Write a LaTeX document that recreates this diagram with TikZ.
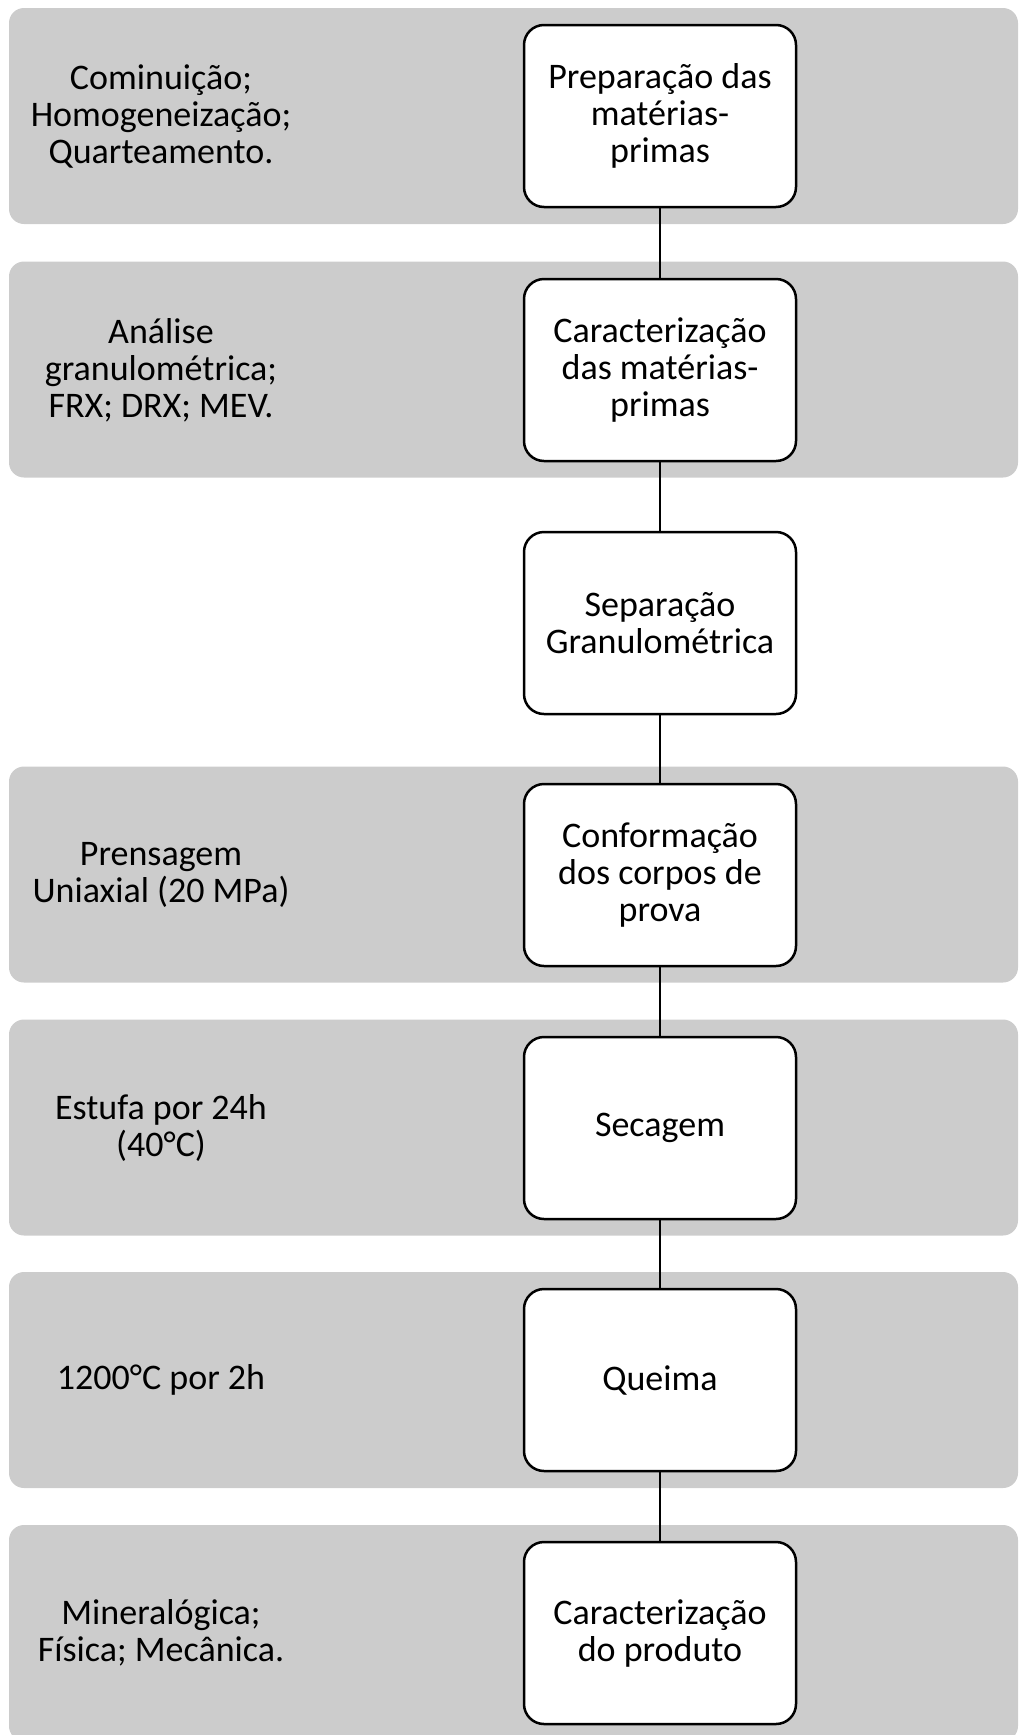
\documentclass[tikz,border=0pt]{standalone}
\usepackage{fontspec}
\setmainfont{Carlito}
\usepackage{xcolor}
\usepackage{tikz}
\usetikzlibrary{calc, positioning}
\definecolor{bandgray}{HTML}{CCCCCC}
\tikzset{
    band/.style={rectangle, fill=bandgray, rounded corners=15pt, minimum width=1009pt, minimum height=216pt, inner sep=0pt},
    stage/.style={rectangle, draw=black, line width=2.5pt, fill=white, rounded corners=20pt, align=center, inner sep=0pt, minimum width=272pt, minimum height=182pt, font=\fontsize{36}{37}\selectfont},
    note/.style={align=center, inner sep=0pt, font=\fontsize{36}{37}\selectfont},
    link/.style={draw=black, line width=2pt}
}

\begin{document}
\begin{tikzpicture}[x=1pt, y=-1pt]
    \useasboundingbox (0,0) rectangle (1019,1735);

    % gray bands
    \node[band] (bprep) at (513.5,116) {};
    \node[band] (bcarac) at (513.5,369.5) {};
    \node[band] (bconf) at (513.5,874.5) {};
    \node[band] (bsec) at (513.5,1127.5) {};
    \node[band] (bqueima) at (513.5,1380) {};
    \node[band] (bprod) at (513.5,1633) {};

    % process steps
    \node[stage] (prep) at (660,116) {Preparação das\\matérias-\\primas};
    \node[stage] (carac) at (660,370) {Caracterização\\das matérias-\\primas};
    \node[stage] (sep) at (660,623) {Separação\\Granulométrica};
    \node[stage] (conf) at (660,875) {Conformação\\dos corpos de\\prova};
    \node[stage] (sec) at (660,1128) {Secagem};
    \node[stage] (queima) at (660,1380) {Queima};
    \node[stage] (prod) at (660,1633) {Caracterização\\do produto};

    % notes on the left
    \node[note] (nprep) at (161,116) {Cominuição;\\Homogeneização;\\Quarteamento.};
    \node[note] (ncarac) at (161,370) {Análise\\granulométrica;\\FRX; DRX; MEV.};
    \node[note] (nconf) at (161,875) {Prensagem\\Uniaxial (20 MPa)};
    \node[note] (nsec) at (161,1128) {Estufa por 24h\\(40°C)};
    \node[note] (nqueima) at (161,1380) {1200°C por 2h};
    \node[note] (nprod) at (161,1633) {Mineralógica;\\Física; Mecânica.};

    % connectors
    \draw[link] (prep.south) -- (carac.north);
    \draw[link] (carac.south) -- (sep.north);
    \draw[link] (sep.south) -- (conf.north);
    \draw[link] (conf.south) -- (sec.north);
    \draw[link] (sec.south) -- (queima.north);
    \draw[link] (queima.south) -- (prod.north);
\end{tikzpicture}
\end{document}
